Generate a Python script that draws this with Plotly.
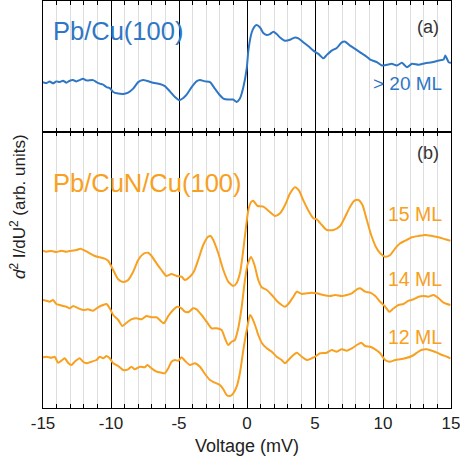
import plotly.graph_objects as go
from plotly.subplots import make_subplots

# ---------------- data (arb. units) ----------------
# top panel: Pb/Cu(100), > 20 ML
blue_v = [-15.0, -14.75, -14.51, -14.26, -14.02, -13.77, -13.53, -13.28, -13.03, -12.79,
          -12.54, -12.30, -12.05, -11.81, -11.32, -11.07, -10.82, -10.58, -10.33, -10.09,
          -9.84, -9.47, -9.11, -8.74, -8.37, -8.00, -7.63, -7.39, -6.90, -6.41,
          -6.04, -5.67, -5.30, -4.98, -4.68, -4.44, -4.07, -3.71, -3.46, -3.09,
          -2.72, -2.36, -1.99, -1.74, -1.38, -1.01, -0.76, -0.52, -0.27, -0.02,
          0.10, 0.34, 0.54, 0.71, 0.96, 1.20, 1.45, 1.69, 1.94, 2.18,
          2.43, 2.80, 3.17, 3.53, 3.78, 4.15, 4.52, 4.88, 5.25, 5.62,
          5.87, 6.23, 6.60, 6.97, 7.22, 7.58, 7.95, 8.32, 8.69, 9.06,
          9.55, 9.92, 10.28, 10.65, 11.02, 11.39, 11.76, 12.13, 12.62, 13.10,
          13.60, 14.10, 14.46, 14.58, 14.83, 15.0]
blue_d = [50.3, 49.3, 51.0, 49.0, 51.0, 50.3, 51.7, 49.7, 51.7, 52.3,
          51.0, 52.3, 53.7, 52.0, 52.3, 50.3, 48.7, 47.7, 45.3, 44.3,
          40.3, 38.7, 38.3, 39.7, 43.7, 50.3, 52.3, 51.7, 49.7, 48.3,
          46.3, 41.0, 35.3, 32.0, 34.3, 37.7, 45.3, 51.0, 52.3, 51.0,
          50.3, 43.7, 37.0, 33.7, 32.7, 32.7, 30.3, 33.7, 45.0, 64.0,
          82.0, 100.0, 106.0, 107.7, 105.3, 99.7, 97.7, 98.7, 101.0, 98.7,
          95.3, 92.0, 93.0, 95.3, 94.3, 90.3, 86.3, 82.0, 78.7, 74.3,
          77.7, 82.0, 84.7, 90.3, 91.0, 87.0, 83.7, 80.3, 77.0, 73.0,
          70.3, 67.0, 67.7, 68.7, 67.0, 69.7, 65.3, 68.7, 67.7, 69.3,
          70.3, 72.0, 73.0, 77.0, 70.3, 69.7]

# bottom panel: Pb/CuN/Cu(100)
ml15_v = [-15.0, -14.75, -14.38, -14.02, -13.65, -13.28, -12.91, -12.54, -12.25, -11.93,
          -11.56, -11.20, -10.82, -10.46, -10.21, -9.96, -9.72, -9.47, -9.11, -8.74,
          -8.37, -8.00, -7.63, -7.27, -7.02, -6.65, -6.29, -5.92, -5.55, -5.18,
          -4.81, -4.57, -4.20, -3.91, -3.59, -3.22, -2.86, -2.68, -2.48, -2.11,
          -1.74, -1.38, -1.01, -0.76, -0.50, -0.30, -0.10, 0.10, 0.30, 0.45,
          0.60, 0.79, 1.20, 1.57, 2.06, 2.43, 2.80, 3.17, 3.53, 3.83,
          4.15, 4.52, 4.88, 5.13, 5.50, 5.87, 6.36, 6.85, 7.22, 7.58,
          7.90, 8.20, 8.49, 8.81, 9.13, 9.47, 9.79, 10.16, 10.53, 10.90,
          11.27, 11.63, 12.13, 12.62, 13.11, 13.60, 14.09, 14.58, 14.95]
ml15_d = [157.3, 156.3, 157.0, 156.0, 157.3, 156.3, 157.3, 158.0, 159.3, 157.3,
          154.7, 152.0, 150.7, 149.3, 147.3, 141.3, 134.7, 128.7, 126.0, 128.0,
          136.3, 148.0, 154.0, 155.3, 152.0, 144.7, 138.0, 132.0, 134.0, 132.0,
          131.3, 128.0, 131.3, 136.3, 148.0, 163.0, 171.3, 172.0, 168.0, 154.7,
          138.0, 126.3, 122.0, 125.0, 136.0, 155.0, 178.0, 198.0, 206.0, 207.3,
          205.0, 202.0, 201.3, 197.3, 192.0, 194.7, 203.0, 214.7, 220.7, 217.3,
          207.3, 197.3, 189.7, 188.7, 183.0, 178.0, 178.0, 182.0, 191.3, 201.3,
          207.3, 208.0, 203.0, 188.0, 173.0, 161.3, 154.7, 151.3, 153.0, 159.7,
          164.7, 167.3, 170.7, 172.0, 173.0, 172.0, 170.7, 168.7, 167.3]

ml14_v = [-15.0, -14.75, -14.51, -14.26, -14.02, -13.77, -13.53, -13.28, -13.03, -12.79,
          -12.42, -12.05, -11.69, -11.32, -10.95, -10.58, -10.33, -10.09, -9.84, -9.47,
          -9.16, -8.86, -8.50, -8.13, -7.76, -7.39, -7.02, -6.65, -6.29, -6.11,
          -5.79, -5.43, -5.13, -4.81, -4.57, -4.25, -3.96, -3.71, -3.34, -2.97,
          -2.60, -2.23, -1.87, -1.62, -1.38, -1.13, -0.89, -0.64, -0.40, -0.15,
          0.05, 0.30, 0.55, 0.83, 1.08, 1.45, 1.82, 2.18, 2.55, 2.80,
          3.04, 3.41, 3.66, 4.03, 4.40, 4.76, 5.13, 5.62, 6.11, 6.48,
          6.97, 7.34, 7.71, 8.08, 8.32, 8.69, 9.06, 9.43, 9.79, 10.16,
          10.46, 10.78, 11.14, 11.51, 11.88, 12.25, 12.62, 12.98, 13.35, 13.72,
          14.09, 14.46, 14.70, 14.95]
ml14_d = [108.0, 107.3, 106.3, 108.0, 104.0, 103.0, 102.0, 101.3, 99.7, 102.0,
          99.7, 98.0, 98.7, 97.3, 100.7, 103.0, 104.0, 99.7, 93.0, 88.0,
          82.0, 85.3, 88.7, 89.7, 88.7, 92.0, 90.7, 90.7, 86.3, 84.7,
          92.0, 98.0, 101.3, 99.7, 96.3, 96.3, 99.7, 98.7, 93.0, 86.3,
          79.7, 79.7, 78.0, 69.7, 63.0, 66.3, 68.0, 80.0, 100.0, 128.0,
          144.0, 151.0, 143.0, 128.0, 120.7, 118.0, 113.0, 107.3, 103.0, 101.3,
          104.0, 111.3, 116.3, 114.0, 114.7, 115.3, 114.7, 113.0, 112.0, 113.0,
          112.0, 113.0, 114.7, 118.7, 119.7, 116.3, 115.3, 112.0, 106.3, 101.3,
          96.3, 99.7, 103.0, 104.0, 107.3, 108.7, 111.3, 112.0, 111.3, 113.0,
          109.7, 105.3, 104.0, 103.0]

ml12_v = [-15.0, -14.75, -14.38, -14.14, -13.89, -13.65, -13.40, -13.16, -12.91, -12.67,
          -12.30, -12.05, -11.81, -11.44, -11.07, -10.82, -10.58, -10.33, -10.09, -9.84,
          -9.47, -9.11, -8.74, -8.50, -8.25, -7.88, -7.51, -7.33, -7.02, -6.65,
          -6.29, -6.04, -5.79, -5.55, -5.30, -5.06, -4.81, -4.57, -4.20, -3.83,
          -3.46, -3.09, -2.72, -2.36, -1.99, -1.74, -1.50, -1.25, -1.01, -0.76,
          -0.52, -0.27, -0.02, 0.22, 0.34, 0.59, 0.83, 1.08, 1.45, 1.82,
          2.18, 2.55, 2.80, 3.04, 3.41, 3.66, 4.03, 4.40, 4.76, 5.01,
          5.37, 5.87, 6.23, 6.60, 6.97, 7.34, 7.71, 8.08, 8.40, 8.69,
          9.06, 9.43, 9.79, 10.16, 10.53, 10.90, 11.27, 11.63, 12.13, 12.50,
          12.81, 13.23, 13.60, 13.97, 14.33, 14.70, 14.95]
ml12_d = [50.7, 51.3, 50.3, 51.3, 45.3, 47.3, 49.7, 45.3, 43.0, 46.3,
          49.7, 46.3, 44.7, 46.3, 48.0, 51.3, 49.7, 52.0, 49.7, 44.7,
          42.0, 38.0, 38.7, 41.3, 38.7, 41.3, 40.7, 43.0, 39.7, 36.3,
          35.3, 34.7, 39.7, 46.3, 48.0, 47.3, 50.7, 47.3, 43.0, 44.7,
          41.3, 34.0, 28.0, 25.3, 23.0, 18.7, 13.0, 12.0, 14.7, 21.3,
          35.0, 58.0, 78.0, 93.0, 91.0, 83.0, 73.0, 65.3, 59.7, 56.3,
          51.3, 48.0, 44.7, 48.0, 53.0, 55.3, 51.3, 48.0, 49.7, 51.3,
          54.7, 55.3, 58.0, 56.3, 58.7, 57.3, 59.7, 63.0, 65.3, 62.0,
          61.3, 58.7, 54.7, 48.0, 46.3, 48.0, 48.7, 49.7, 52.0, 55.3,
          58.0, 58.7, 57.3, 55.3, 53.0, 51.3, 49.7]

x_tickvals = [-15, -10, -5, 0, 5, 10, 15]
x_ticktext = ["-15", "-10", "-5", "0", "5", "10", "15"]

BLUE = "#2f77c4"
ORANGE = "#f8a020"
FONT = "Liberation Sans, Arial, Helvetica, sans-serif"

# ---------------- figure ----------------
W, H = 460, 464
ML, MR, MT, MB = 43, 9, 1, 56
plot_h = H - MT - MB
split_px = 132  # boundary between panels (pixels from top)
split = (H - MB - split_px) / plot_h

fig = make_subplots(rows=2, cols=1, shared_xaxes=False, vertical_spacing=0)

line_kw = dict(shape="spline", smoothing=0.6, width=2)
fig.add_trace(go.Scatter(x=blue_v, y=blue_d, mode="lines",
                         line=dict(color=BLUE, **line_kw), showlegend=False), row=1, col=1)
for v, d in [(ml15_v, ml15_d), (ml14_v, ml14_d), (ml12_v, ml12_d)]:
    fig.add_trace(go.Scatter(x=v, y=d, mode="lines",
                             line=dict(color=ORANGE, **line_kw), showlegend=False), row=2, col=1)

xcommon = dict(
    range=[-15, 15], showline=True, linecolor="black", linewidth=1, mirror="ticks",
    ticks="inside", ticklen=4, tickcolor="black", tickwidth=1,
    tickmode="array", tickvals=x_tickvals, ticktext=x_ticktext,
    showgrid=True, gridcolor="black", gridwidth=1, zeroline=False,
    minor=dict(tickmode="linear", tick0=0, dtick=1, ticks="inside", ticklen=4,
               tickcolor="black", showgrid=True, gridcolor="#dedede", gridwidth=1),
)
ycommon = dict(showline=True, linecolor="black", linewidth=1, mirror=True,
               showticklabels=False, ticks="", showgrid=False, zeroline=False)

fig.update_xaxes(**xcommon, showticklabels=False, row=1, col=1)
fig.update_xaxes(**xcommon, showticklabels=True, automargin=False,
                 ticklabeloverflow="allow",
                 tickfont=dict(size=17, color="#222"),
                 title=dict(text="Voltage (mV)", font=dict(size=18, color="#222"), standoff=6),
                 row=2, col=1)
fig.update_yaxes(**ycommon, range=[0, 132], row=1, col=1)
fig.update_yaxes(**ycommon, range=[0, 276], row=2, col=1)

fig.update_layout(
    width=W, height=H, margin=dict(l=ML, r=MR, t=MT, b=MB, autoexpand=False),
    paper_bgcolor="white", plot_bgcolor="white",
    font=dict(family=FONT, color="#222"),
    yaxis=dict(domain=[split, 1]),
    yaxis2=dict(domain=[0, split]),
)

def px_x(x):
    return (x - ML) / (W - ML - MR)

def px_y(y):
    return (H - MB - y) / plot_h

def ann(text, x, y, xanchor, size, color, **kw):
    fig.add_annotation(text=text, x=px_x(x), y=px_y(y), xref="paper", yref="paper",
                       xanchor=xanchor, yanchor="middle", showarrow=False,
                       font=dict(size=size, color=color, family=FONT), **kw)

ann("(a)", 441, 27, "right", 18, "#333")
ann("(b)", 441, 153, "right", 18, "#333")
ann("Pb/Cu(100)", 51, 31, "left", 25.5, BLUE)
ann("&gt; 20 ML", 444, 84, "right", 19, BLUE)
ann("Pb/CuN/Cu(100)", 51, 183, "left", 25.5, ORANGE)
ann("15 ML", 444, 214, "right", 19.5, ORANGE)
ann("14 ML", 444, 279, "right", 19.5, ORANGE)
ann("12 ML", 444, 337, "right", 19.5, ORANGE)
fig.add_annotation(text="<i>d</i><sup>2</sup> I/dU<sup>2</sup> (arb. units)",
                   x=px_x(18), y=px_y(207), xref="paper", yref="paper",
                   xanchor="center", yanchor="middle", textangle=-90, showarrow=False,
                   font=dict(size=17, color="#222", family=FONT))

fig.write_html("out.html", config={"displayModeBar": False},
               post_script="document.body.style.margin='0';document.body.style.overflow='hidden';")
